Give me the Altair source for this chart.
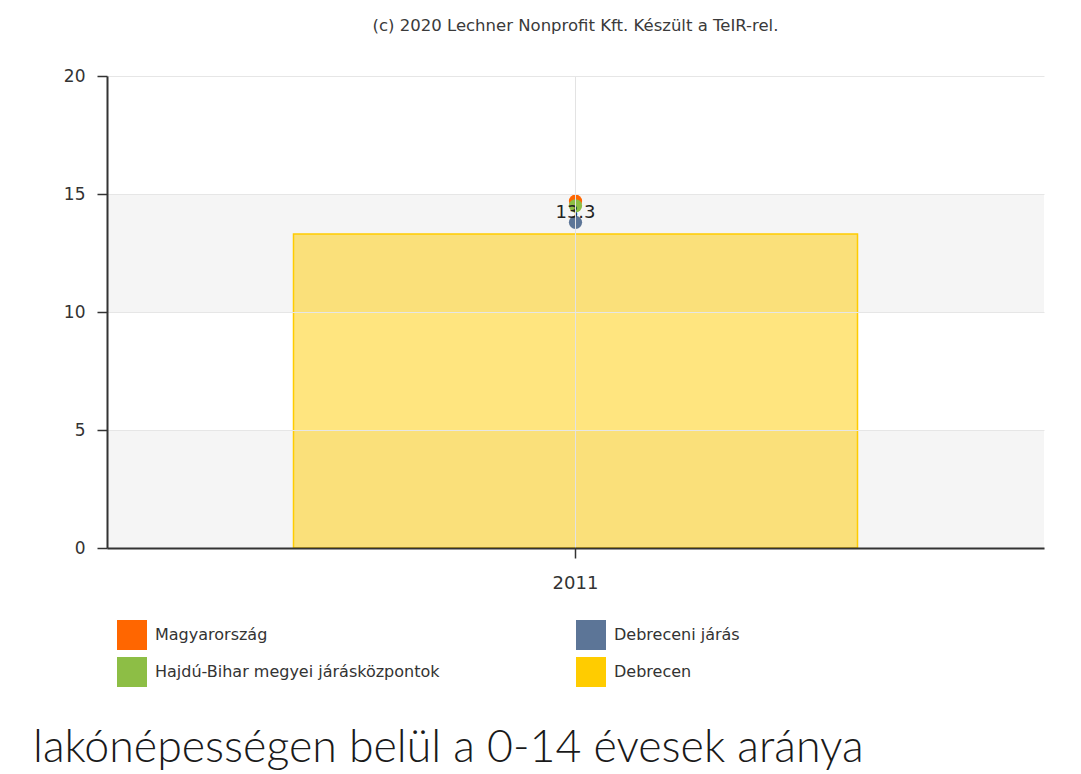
import altair as alt
import pandas as pd

# ---- data ----
years = ["2011"]
series = ["Magyarország", "Hajdú-Bihar megyei járásközpontok", "Debreceni járás", "Debrecen"]
colors = ["#FF6600", "#8DBE45", "#5C7597", "#FFCC00"]

point_series = ["Magyarország", "Hajdú-Bihar megyei járásközpontok", "Debreceni járás"]
point_values = [14.7, 14.5, 13.8]

bar_series = ["Debrecen"]
bar_values = [13.3]

band_lo = [0, 10]
band_hi = [5, 15]

y_ticks = [0, 5, 10, 15, 20]

title_text = "(c) 2020 Lechner Nonprofit Kft. Készült a TeIR-rel."
caption_text = ["lakónépességen belül a 0-14 évesek aránya"]

FONT = "DejaVu Sans"
W, H = 937, 472

points_df = pd.DataFrame({"year": years * len(point_series), "series": point_series, "value": point_values})
bar_df = pd.DataFrame({"year": years, "series": bar_series, "value": bar_values})
bands_df = pd.DataFrame({"lo": band_lo, "hi": band_hi})
caption_df = pd.DataFrame({"caption": caption_text})

yscale = alt.Scale(domain=[0, 20])
color_scale = alt.Scale(domain=series, range=colors)

legend = alt.Legend(
    orient="none", legendX=10, legendY=544, columns=2, title=None,
    symbolType="square", symbolSize=900, symbolStrokeWidth=0, symbolOpacity=1,
    labelFont=FONT, labelFontSize=16, labelColor="#333333", labelOffset=8,
    labelLimit=600, rowPadding=7, columnPadding=136,
)

bands = alt.Chart(bands_df).mark_rect(color="#f5f5f5").encode(
    x=alt.value(0), x2=alt.value(W),
    y=alt.Y("lo:Q", scale=yscale, title=None),
    y2="hi:Q",
)

x_enc = alt.X(
    "year:N", title=None,
    axis=alt.Axis(
        labelAngle=0, labelFont=FONT, labelFontSize=18, labelColor="#333333",
        labelPadding=16, tickSize=10, tickColor="#333333", tickWidth=1.5,
        domainColor="#333333", domainWidth=2, grid=True, gridColor="#e3e3e3",
        bandPosition=0.5, zindex=1,
    ),
)

y_axis = alt.Axis(
    values=y_ticks, labelFont=FONT, labelFontSize=17, labelColor="#333333",
    labelPadding=12, tickSize=10, tickColor="#333333", tickWidth=1.5,
    domainColor="#333333", domainWidth=2, grid=True, gridColor="#e6e6e6",
    title=None, zindex=1,
)

bar = alt.Chart(bar_df).mark_bar(size=564, fillOpacity=0.5, strokeWidth=1.5, strokeOpacity=1).encode(
    x=x_enc,
    y=alt.Y("value:Q", scale=yscale, axis=y_axis),
    color=alt.Color("series:N", scale=color_scale, legend=legend),
    stroke=alt.Color("series:N", scale=color_scale, legend=None),
)

pts = alt.Chart(points_df).mark_circle(size=175, opacity=1).encode(
    x="year:N",
    y=alt.Y("value:Q", scale=yscale),
    color=alt.Color("series:N", scale=color_scale, legend=legend),
)

label = alt.Chart(bar_df).mark_text(
    font=FONT, fontSize=18, color="#222222", baseline="middle", dy=-21
).encode(
    x="year:N",
    y=alt.Y("value:Q", scale=yscale),
    text=alt.Text("value:Q", format=".1f"),
)

caption = alt.Chart(caption_df).mark_text(
    font="Lato", fontSize=44.7, fontWeight=300, color="#1a1a1a", align="left", baseline="alphabetic"
).encode(
    x=alt.value(-74), y=alt.value(686),
    text="caption:N",
)

chart = alt.layer(bands, bar, pts, label, caption).properties(
    width=W, height=H,
    title=alt.TitleParams(
        text=title_text, font=FONT, fontSize=16.5, fontWeight="normal", color="#3a3a3a",
        anchor="middle", frame="group", offset=33,
    ),
    autosize=alt.AutoSizeParams(type="none"),
    padding={"left": 99, "top": 68, "right": 29, "bottom": 224},
).configure_view(strokeWidth=0).resolve_scale(y="shared", color="shared")

chart.save("out.html", embed_options={"renderer": "svg", "actions": False})
